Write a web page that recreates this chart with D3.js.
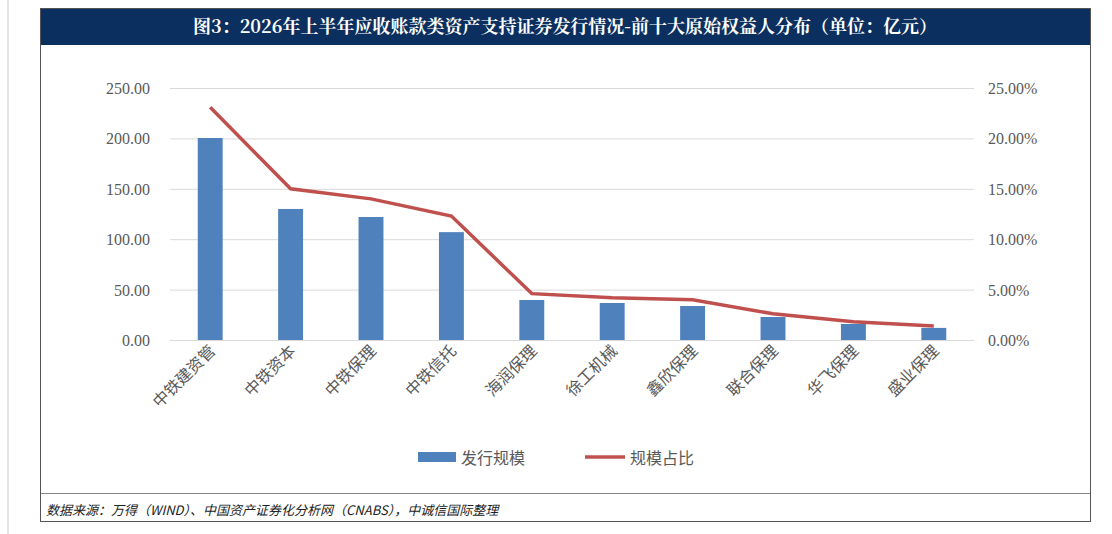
<!DOCTYPE html>
<html><head><meta charset="utf-8">
<script src="https://cdn.jsdelivr.net/npm/d3@7"></script>
<style>body{margin:0;background:#fff}</style></head>
<body><svg id="c" width="1112" height="534"></svg>
<script>
const categories=["中铁建资管","中铁资本","中铁保理","中铁信托","海润保理","徐工机械","鑫欣保理","联合保理","华飞保理","盛业保理"];
const issueScale=[200.4,130,122,107,39.7,36.7,33.7,22.8,15.9,12];
const shareRatio=[23.1,15.0,14.0,12.3,4.6,4.2,4.0,2.6,1.8,1.4];
const leftTicks=[0,50,100,150,200,250];
const rightTicks=[0,5,10,15,20,25];
const title="图3：2026年上半年应收账款类资产支持证券发行情况-前十大原始权益人分布（单位：亿元）";
const source="数据来源：万得（WIND）、中国资产证券化分析网（CNABS），中诚信国际整理";

const svg=d3.select("#c");
const serif="'Liberation Serif','Noto Sans CJK SC',serif";
const cjk="'Noto Sans CJK SC','Liberation Serif',serif";
svg.append("line").attr("x1",8).attr("x2",8).attr("y1",0).attr("y2",534).attr("stroke","#ccc");
svg.append("rect").attr("x",40.5).attr("y",8.5).attr("width",1050).attr("height",513).attr("fill","none").attr("stroke","#555");
svg.append("rect").attr("x",41).attr("y",9).attr("width",1049).attr("height",36).attr("fill","#0b2f5e");
svg.append("text").attr("x",565).attr("y",33).attr("text-anchor","middle").attr("fill","#fff")
 .attr("font-family","'Noto Serif CJK SC','Liberation Serif','Noto Sans CJK SC',serif").attr("font-weight","bold").attr("font-size",18).text(title);
svg.append("line").attr("x1",41).attr("x2",1090).attr("y1",493.5).attr("y2",493.5).attr("stroke","#888");
svg.append("text").attr("x",46).attr("y",515).attr("font-family",cjk).attr("font-style","italic").attr("font-size",13).attr("fill","#222").text(source);

const x=d3.scaleBand().domain(categories).range([170,974]).paddingInner(0.69).paddingOuter(0.345);
const y=d3.scaleLinear().domain([0,250]).range([340,88]);
const y2=d3.scaleLinear().domain([0,25]).range([340,88]);
const g=svg.append("g");
leftTicks.forEach(t=>{
 g.append("line").attr("x1",170).attr("x2",974).attr("y1",y(t)+.5).attr("y2",y(t)+.5).attr("stroke","#d9d9d9");
 g.append("text").attr("x",150).attr("y",y(t)+6).attr("text-anchor","end").attr("font-family",serif).attr("font-size",16).attr("fill","#595959").text(d3.format(".2f")(t));
});
rightTicks.forEach(t=>{
 g.append("text").attr("x",988).attr("y",y2(t)+6).attr("font-family",serif).attr("font-size",16).attr("fill","#595959").text(d3.format(".2f")(t)+"%");
});
g.selectAll(".b").data(categories).join("rect").attr("x",d=>x(d)).attr("width",x.bandwidth())
 .attr("y",(d,i)=>y(issueScale[i])).attr("height",(d,i)=>340-y(issueScale[i])).attr("fill","#4f81bd");
const line=d3.line().x((d,i)=>x(categories[i])+x.bandwidth()/2).y(d=>y2(d));
g.append("path").attr("d",line(shareRatio)).attr("fill","none").attr("stroke","#c0504d").attr("stroke-width",3.5);
categories.forEach(c=>{
 const cx=x(c)+x.bandwidth()/2+6;
 g.append("text").attr("transform",`translate(${cx},352) rotate(-45)`).attr("text-anchor","end").attr("font-family",cjk).attr("font-size",16).attr("fill","#595959").text(c);
});
svg.append("rect").attr("x",418).attr("y",452).attr("width",38).attr("height",10).attr("fill","#4f81bd");
svg.append("text").attr("x",461).attr("y",464).attr("font-family",cjk).attr("font-size",16).attr("fill","#595959").text("发行规模");
svg.append("line").attr("x1",585).attr("x2",625).attr("y1",457).attr("y2",457).attr("stroke","#c0504d").attr("stroke-width",3.5);
svg.append("text").attr("x",630).attr("y",464).attr("font-family",cjk).attr("font-size",16).attr("fill","#595959").text("规模占比");
</script></body></html>
